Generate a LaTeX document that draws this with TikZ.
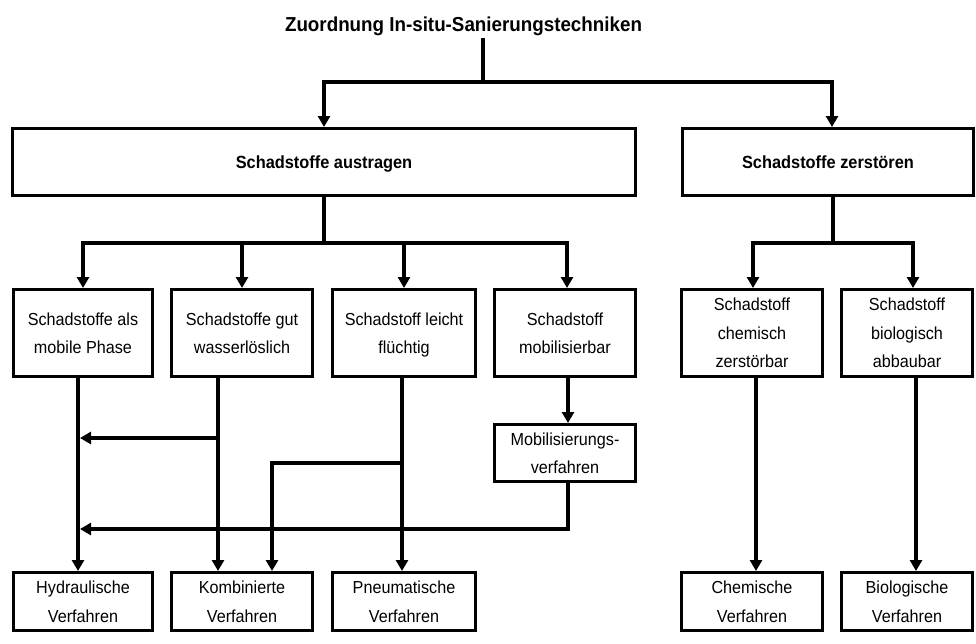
\documentclass[tikz,border=0pt]{standalone}
\usepackage{fontspec}
\setmainfont{Liberation Sans}
\newfontfamily\narrowsans[FakeStretch=0.93]{Liberation Sans}
\usetikzlibrary{arrows.meta,calc}
\begin{document}
\begin{tikzpicture}[x=1pt,y=-1pt,
  box/.style={draw, line width=3pt, inner sep=0pt, align=center, text depth=0pt,
    font=\narrowsans\fontsize{17.4}{28.5}\selectfont},
  headbox/.style={draw, line width=3pt, inner sep=0pt, text depth=0pt,
    font=\narrowsans\fontsize{17.6}{20}\selectfont\bfseries},
  conn/.style={line width=3.2pt},
  tip/.tip={Triangle[width=12pt,length=11pt]},
  arr/.style={conn, -tip},
  twoarr/.style={conn, tip-tip},
]
\useasboundingbox (0,0) rectangle (976,643);

% title
\node[font=\narrowsans\fontsize{20.2}{24}\selectfont\bfseries, anchor=base, inner sep=3pt]
  (title) at (463.5,31) {Zuordnung In-situ-Sanierungstechniken};

% first level
\node[headbox, minimum width=623, minimum height=67] (A) at (324,162) {Schadstoffe austragen};
\node[headbox, minimum width=291, minimum height=67] (Z) at (828,162) {Schadstoffe zerstören};

% second level
\node[box, minimum width=139, minimum height=87] (B1) at (83,333) {Schadstoffe als\\mobile Phase};
\node[box, minimum width=141, minimum height=87] (B2) at (242,333) {Schadstoffe gut\\wasserlöslich};
\node[box, minimum width=143, minimum height=87] (B3) at (404,333) {Schadstoff leicht\\flüchtig};
\node[box, minimum width=141, minimum height=87] (B4) at (565,333) {Schadstoff\\mobilisierbar};
\node[box, minimum width=141, minimum height=87] (B5) at (752,333) {Schadstoff\\chemisch\\zerstörbar};
\node[box, minimum width=131, minimum height=87] (B6) at (907,333) {Schadstoff\\biologisch\\abbaubar};

% intermediate step
\node[box, minimum width=141, minimum height=57] (M) at (565,453) {Mobilisierungs-\\verfahren};

% procedures
\node[box, minimum width=139, minimum height=58] (H) at (83,601.5) {Hydraulische\\Verfahren};
\node[box, minimum width=141, minimum height=58] (K) at (242,601.5) {Kombinierte\\Verfahren};
\node[box, minimum width=143, minimum height=58] (P) at (404,601.5) {Pneumatische\\Verfahren};
\node[box, minimum width=141, minimum height=58] (C) at (752,601.5) {Chemische\\Verfahren};
\node[box, minimum width=131, minimum height=58] (Bio) at (907,601.5) {Biologische\\Verfahren};

% title to first level
\coordinate (j0) at (483,82);
\draw[conn] (title.south -| j0) -- (j0);
\draw[twoarr] (A.north) |- (j0) -| ($(Z.north)+(4,0)$);

% first level to second level
\coordinate (j1) at (324,243);
\draw[conn] (A.south) -- (j1);
\draw[twoarr] (B1.north) |- (j1) -| ($(B4.north)+(2,0)$);
\draw[arr] (j1 -| B2.north) -- (B2.north);
\draw[arr] (j1 -| B3.north) -- (B3.north);

\coordinate (j2) at (833,243);
\draw[conn] (Z.south -| j2) -- (j2);
\draw[twoarr] ($(B5.north)+(1,0)$) |- (j2) -| ($(B6.north)+(6,0)$);

% second level to procedures
\coordinate (c1) at (78,0);
\coordinate (c2) at (218,0);
\coordinate (c3) at (402,0);
\coordinate (c4) at (568,0);
\coordinate (c5) at (756,0);
\coordinate (c6) at (916,0);

\draw[arr] (B1.south -| c1) -- (H.north -| c1);

\draw[arr] (B2.south -| c2) -- (K.north -| c2);
\coordinate (j3) at (218,438);
\coordinate (e3) at (80,438);
\draw[arr] (j3) -- (e3);

\draw[arr] (B3.south -| c3) -- (P.north -| c3);
\coordinate (j4) at (402,463);
\coordinate (k4) at (272,463);
\draw[arr] (j4) -- (k4) -- (K.north -| k4);

\draw[arr] (B4.south -| c4) -- (M.north -| c4);
\coordinate (j5) at (568,529);
\coordinate (e5) at (80,529);
\draw[arr] (M.south -| j5) -- (j5) -- (e5);

\draw[arr] (B5.south -| c5) -- (C.north -| c5);
\draw[arr] (B6.south -| c6) -- (Bio.north -| c6);
\end{tikzpicture}
\end{document}
